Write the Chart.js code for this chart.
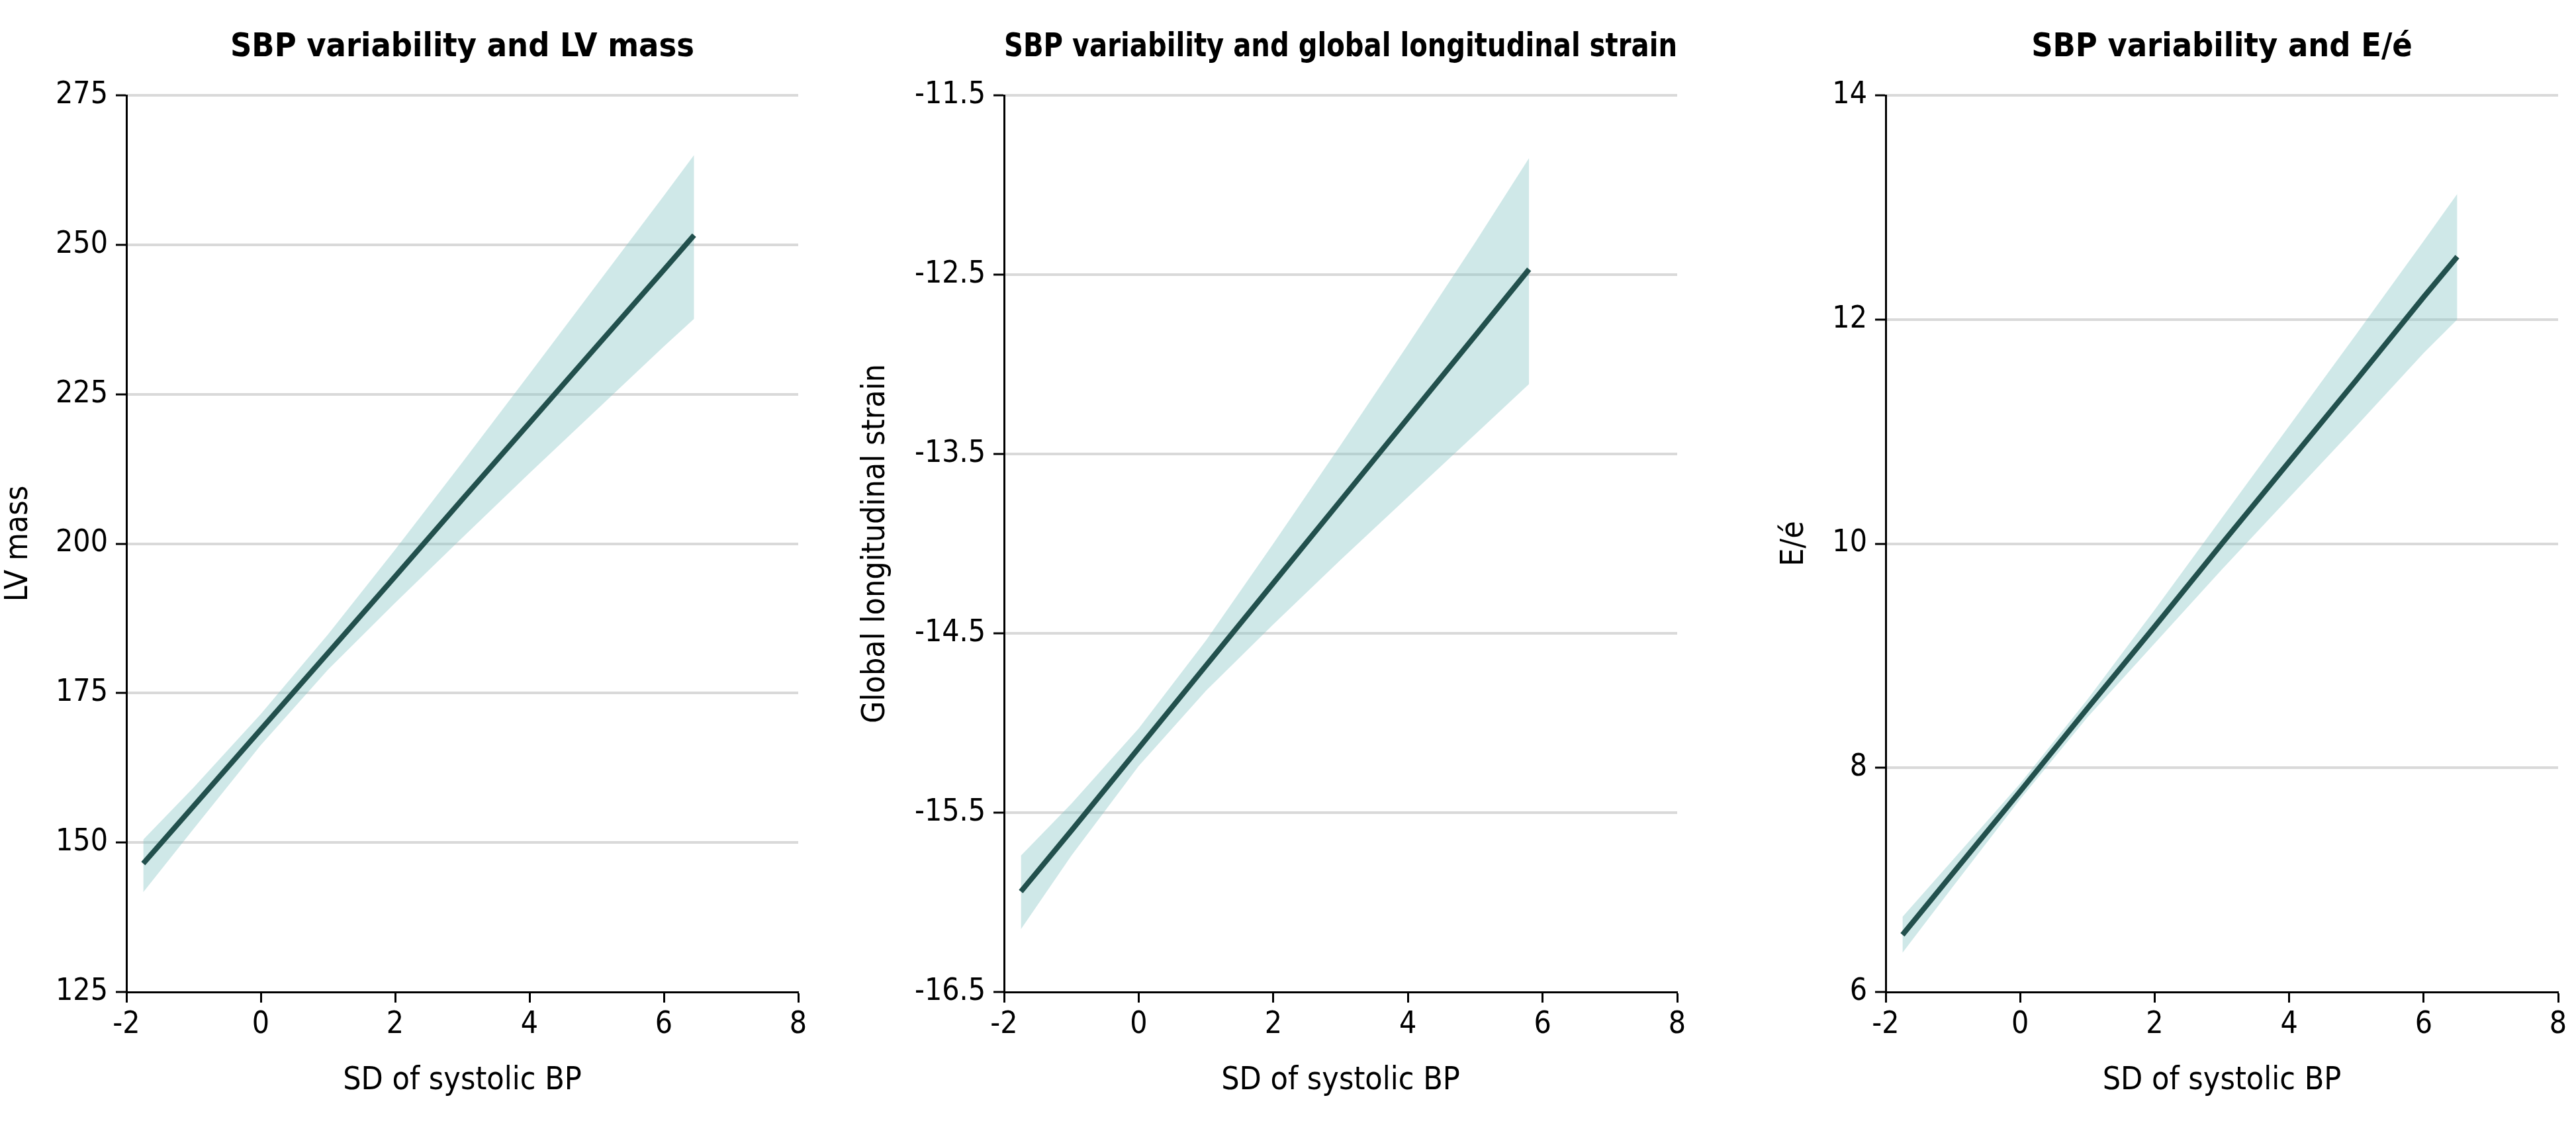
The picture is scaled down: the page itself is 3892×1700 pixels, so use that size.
<!DOCTYPE html>
<html>
<head>
<meta charset="utf-8">
<script src="https://cdn.jsdelivr.net/npm/chart.js@4.4.1/dist/chart.umd.min.js"></script>
<style>
    html, body { margin: 0; padding: 0; background: #fff; }
    #wrap { position: relative; width: 3892px; height: 1700px; overflow: hidden; }
    .panel { position: absolute; top: 0; height: 1700px; }
</style>
</head>
<body>
<div id="wrap">
    <div class="panel" style="left:0px;width:1246px"><canvas id="lvChart" width="1246" height="1700"></canvas></div>
    <div class="panel" style="left:1295px;width:1279px"><canvas id="glsChart" width="1279" height="1700"></canvas></div>
    <div class="panel" style="left:2683px;width:1209px"><canvas id="eeChart" width="1209" height="1700"></canvas></div>
</div>
<script>
// x axis (SD of systolic BP) is the same for the three panels
const xTicks = [-2, 0, 2, 4, 6, 8];

// panel 1 - LV mass
const lvX = [-1.75, -1, 0, 1, 2, 3, 4, 5, 6, 6.45];
const lvFit = [146.5, 156.1, 168.9, 181.7, 194.5, 207.4, 220.2, 233.0, 245.8, 251.6];
const lvUpper = [150.5, 159.2, 171.5, 184.8, 199.0, 213.6, 228.4, 243.3, 258.2, 265.0];
const lvLower = [141.7, 152.3, 166.3, 178.9, 190.1, 201.0, 211.8, 222.4, 233.0, 237.6];
const lvTicks = [125, 150, 175, 200, 225, 250, 275];

// panel 2 - global longitudinal strain
const glsX = [-1.75, -1, 0, 1, 2, 3, 4, 5, 5.8];
const glsFit = [-15.94, -15.60, -15.14, -14.68, -14.22, -13.76, -13.30, -12.84, -12.47];
const glsUpper = [-15.74, -15.45, -15.03, -14.54, -14.00, -13.45, -12.89, -12.32, -11.85];
const glsLower = [-16.15, -15.74, -15.24, -14.82, -14.45, -14.09, -13.74, -13.39, -13.11];
const glsTicks = [-16.5, -15.5, -14.5, -13.5, -12.5, -11.5];

// panel 3 - E/é
const eeX = [-1.75, -1, 0, 1, 2, 3, 4, 5, 6, 6.5];
const eeFit = [6.51, 7.06, 7.79, 8.53, 9.26, 10.0, 10.73, 11.46, 12.20, 12.56];
const eeUpper = [6.67, 7.18, 7.86, 8.61, 9.41, 10.23, 11.05, 11.87, 12.70, 13.12];
const eeLower = [6.35, 6.94, 7.72, 8.45, 9.11, 9.77, 10.41, 11.05, 11.70, 12.00];
const eeTicks = [6, 8, 10, 12, 14];

const FONT = "'Liberation Sans Narrow', 'DejaVu Sans Condensed', 'Arial Narrow', sans-serif";
const LINE_COLOR = '#22504d';
const BAND_COLOR = 'rgba(135, 197, 197, 0.4)';
const GRID_COLOR = '#d9d9d9';

function pts(xs, ys) {
    return xs.map((x, i) => ({ x: x, y: ys[i] }));
}

function makeChart(id, opts) {
    const ctx = document.getElementById(id).getContext('2d');
    return new Chart(ctx, {
        type: 'line',
        data: {
            datasets: [
                {
                    // fitted line, drawn on top of the band
                    data: pts(opts.x, opts.fit),
                    borderColor: LINE_COLOR,
                    borderWidth: 8,
                    pointRadius: 0,
                    fill: false,
                    order: 0
                },
                {
                    data: pts(opts.x, opts.upper),
                    borderWidth: 0,
                    pointRadius: 0,
                    backgroundColor: BAND_COLOR,
                    fill: '+1',
                    order: 1
                },
                {
                    data: pts(opts.x, opts.lower),
                    borderWidth: 0,
                    pointRadius: 0,
                    fill: false,
                    order: 2
                }
            ]
        },
        options: {
            responsive: false,
            animation: false,
            devicePixelRatio: 1,
            layout: {
                padding: { top: 0, left: 0, bottom: 0, right: opts.padRight }
            },
            plugins: {
                legend: { display: false },
                tooltip: { enabled: false },
                title: {
                    display: true,
                    text: opts.title,
                    color: '#000',
                    fullSize: false,
                    font: { family: FONT, size: 50, weight: 'bold', lineHeight: 1.2 },
                    padding: { top: 42, bottom: 42 }
                }
            },
            scales: {
                x: {
                    type: 'linear',
                    min: -2,
                    max: 8,
                    afterBuildTicks: (s) => { s.ticks = xTicks.map(v => ({ value: v })); },
                    afterFit: (s) => { s.height = 201; },
                    grid: {
                        display: true,
                        drawOnChartArea: false,
                        drawTicks: true,
                        tickLength: 16,
                        tickColor: '#000',
                        tickWidth: 3
                    },
                    border: { display: true, color: '#000', width: 3 },
                    ticks: {
                        color: '#000',
                        padding: 6,
                        maxRotation: 0,
                        font: { family: FONT, size: 46 },
                        callback: (v) => String(v)
                    },
                    title: {
                        display: true,
                        text: 'SD of systolic BP',
                        color: '#000',
                        font: { family: FONT, size: 48 },
                        padding: { top: 0, bottom: 38 }
                    }
                },
                y: {
                    type: 'linear',
                    min: opts.ticks[0],
                    max: opts.ticks[opts.ticks.length - 1],
                    afterBuildTicks: (s) => { s.ticks = opts.ticks.map(v => ({ value: v })); },
                    afterFit: (s) => { s.width = opts.axisWidth; },
                    grid: {
                        display: true,
                        drawOnChartArea: true,
                        drawTicks: true,
                        tickLength: 16,
                        tickColor: '#000',
                        tickWidth: 3,
                        lineWidth: 4,
                        color: (c) => (c.tick && c.tick.value === opts.ticks[0]) ? 'rgba(0,0,0,0)' : GRID_COLOR
                    },
                    border: { display: true, color: '#000', width: 3 },
                    ticks: {
                        color: '#000',
                        padding: 12,
                        font: { family: FONT, size: 46 },
                        callback: (v) => String(v)
                    },
                    title: {
                        display: true,
                        text: opts.yTitle,
                        color: '#000',
                        font: { family: FONT, size: 48 },
                        padding: { top: 0, bottom: 0 }
                    }
                }
            }
        }
    });
}

makeChart('lvChart', {
    title: 'SBP variability and LV mass',
    yTitle: 'LV mass',
    x: lvX, fit: lvFit, upper: lvUpper, lower: lvLower,
    ticks: lvTicks,
    axisWidth: 191,
    padRight: 40
});

makeChart('glsChart', {
    title: 'SBP variability and global longitudinal strain',
    yTitle: 'Global longitudinal strain',
    x: glsX, fit: glsFit, upper: glsUpper, lower: glsLower,
    ticks: glsTicks,
    axisWidth: 222,
    padRight: 40
});

makeChart('eeChart', {
    title: 'SBP variability and E/é',
    yTitle: 'E/é',
    x: eeX, fit: eeFit, upper: eeUpper, lower: eeLower,
    ticks: eeTicks,
    axisWidth: 166,
    padRight: 27
});
</script>
</body>
</html>
